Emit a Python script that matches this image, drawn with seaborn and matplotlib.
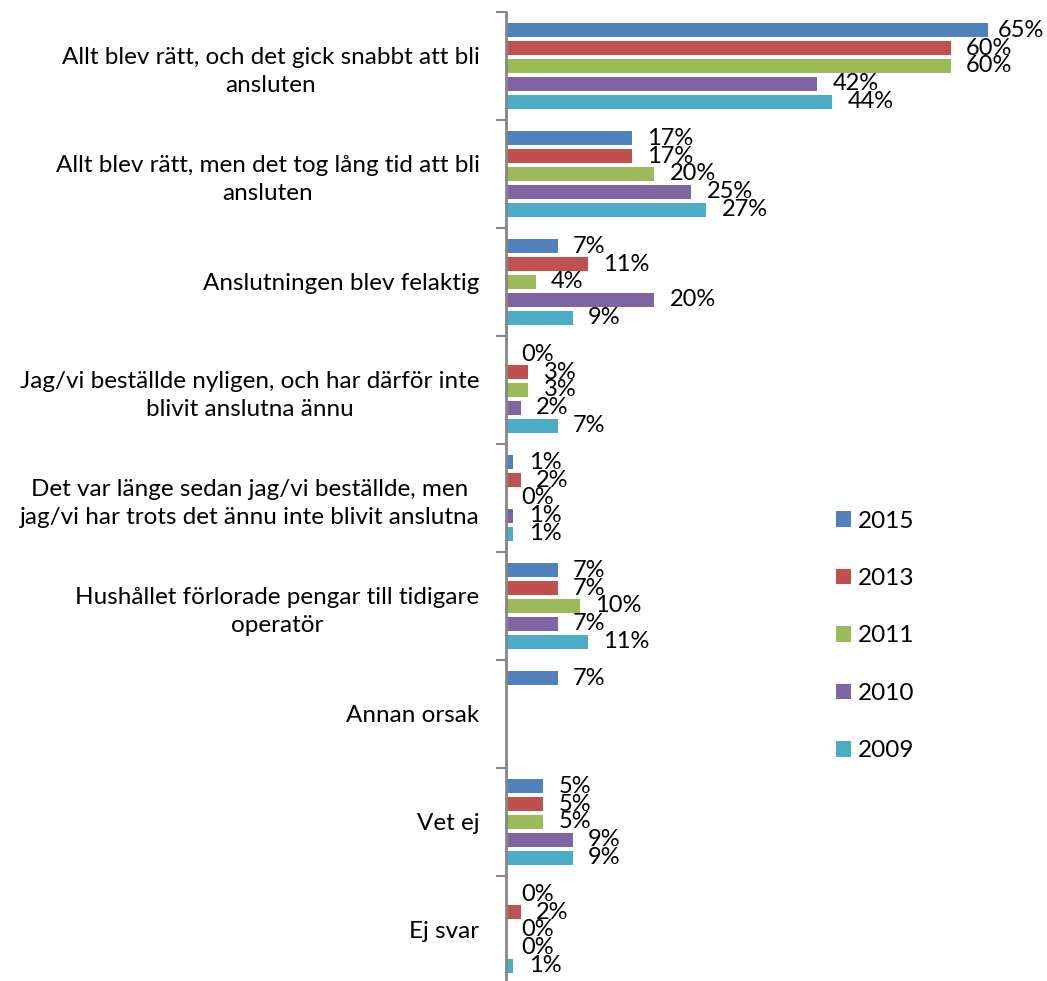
import numpy as np
import pandas as pd
import matplotlib
matplotlib.use('Agg')
import matplotlib.pyplot as plt
import seaborn as sns

# kategorier (radbrytningar som i originalet)
categories = [
    'Allt blev rätt, och det gick snabbt att bli\nansluten',
    'Allt blev rätt, men det tog lång tid att bli\nansluten',
    'Anslutningen blev felaktig',
    'Jag/vi beställde nyligen, och har därför inte\nblivit anslutna ännu',
    'Det var länge sedan jag/vi beställde, men\njag/vi har trots det ännu inte blivit anslutna',
    'Hushållet förlorade pengar till tidigare\noperatör',
    'Annan orsak',
    'Vet ej',
    'Ej svar',
]
years = ['2015', '2013', '2011', '2010', '2009']

v2015 = [65, 17, 7, 0, 1, 7, 7, 5, 0]
v2013 = [60, 17, 11, 3, 2, 7, np.nan, 5, 2]
v2011 = [60, 20, 4, 3, 0, 10, np.nan, 5, 0]
v2010 = [42, 25, 20, 2, 1, 7, np.nan, 9, 0]
v2009 = [44, 27, 9, 7, 1, 11, np.nan, 9, 1]

colors = ['#4F81BD', '#C0504D', '#9BBB59', '#8064A2', '#4BACC6']

rows = []
for year, vals in zip(years, [v2015, v2013, v2011, v2010, v2009]):
    for cat, v in zip(categories, vals):
        rows.append({'kategori': cat, 'år': year, 'andel': v})
df = pd.DataFrame(rows).dropna()

fs = 17.5
plt.rcParams['font.family'] = ['Lato', 'DejaVu Sans']

fig = plt.figure(figsize=(10.47, 9.81), dpi=100)
ax = fig.add_axes([506 / 1047, -3 / 981, (1025 - 506) / 1047, 972 / 981])

sns.barplot(data=df, y='kategori', x='andel', hue='år', order=categories,
            hue_order=years, palette=colors, saturation=1, orient='h',
            errorbar=None, width=0.833, gap=0.2, linewidth=0, ax=ax)

anns = []
for cont in ax.containers:
    anns += ax.bar_label(cont, fmt='%.0f%%', padding=11, fontsize=17, color='black')

ax.set_xlim(0, 70)
ax.set_ylim(8.5, -0.5)
ax.set_xlabel('')
ax.set_ylabel('')
ax.set_xticks([])
for s in ['top', 'right', 'bottom']:
    ax.spines[s].set_visible(False)
ax.spines['left'].set_color('#868686')
ax.spines['left'].set_linewidth(2)

ax.set_yticks(np.arange(len(categories)))
ax.set_yticklabels(categories, fontsize=fs)
for lab in ax.get_yticklabels():
    lab.set_multialignment('center')
    lab.set_linespacing(1.4)
ax.tick_params(axis='y', which='major', length=0, pad=19)
ax.set_yticks(np.arange(-0.5, len(categories), 1), minor=True)
ax.tick_params(axis='y', which='minor', length=7, width=1.5, color='#868686', direction='out')

ax.legend(loc='center left', bbox_to_anchor=(836 / 1047, 1 - 636 / 981),
          bbox_transform=fig.transFigure, frameon=False, fontsize=fs,
          borderpad=0, handlelength=0.6, handleheight=0.6, handletextpad=0.3,
          labelspacing=1.5, borderaxespad=0)

# etiketter som hamnar utanför bilden flyttas in (som i Excel)
fig.canvas.draw()
r = fig.canvas.get_renderer()
for a in anns:
    ext = a.get_window_extent(r)
    if ext.x1 > 1044:
        dx, dy = a.xyann
        a.xyann = (dx - (ext.x1 - 1044) * 72 / 100, dy)

fig.savefig('out.png', dpi=100)
